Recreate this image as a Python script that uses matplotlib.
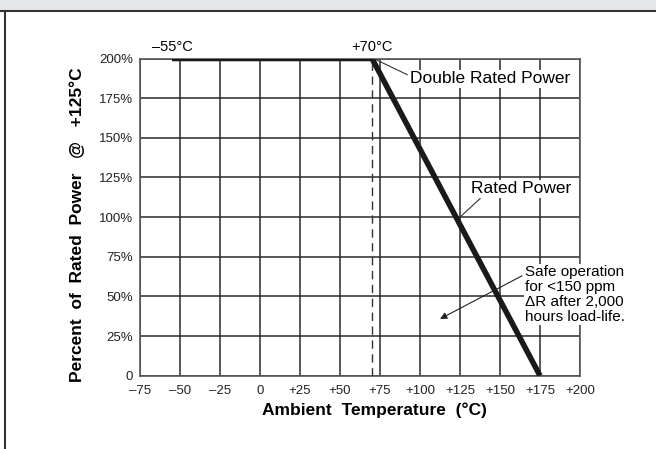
import numpy as np
import matplotlib.pyplot as plt
from matplotlib.patches import Rectangle
from matplotlib.lines import Line2D

plt.rcParams['font.family'] = ['Liberation Sans', 'DejaVu Sans']

# derating curve
temp = [-55, 70, 175]
power = [200, 200, 0]

x_ticks = [-75, -50, -25, 0, 25, 50, 75, 100, 125, 150, 175, 200]
x_labels = ['\u201375', '\u201350', '\u201325', '0', '+25', '+50', '+75',
            '+100', '+125', '+150', '+175', '+200']
y_ticks = [0, 25, 50, 75, 100, 125, 150, 175, 200]
y_labels = ['0', '25%', '50%', '75%', '100%', '125%', '150%', '175%', '200%']

fig = plt.figure(figsize=(6.56, 4.49), dpi=100)

# header band and frame
fig.patches.append(Rectangle((0, 1 - 10.5 / 449), 1, 10.5 / 449, transform=fig.transFigure,
                             facecolor='#e6e7e8', edgecolor='none', zorder=0))
fig.lines.append(Line2D([0, 1], [1 - 11 / 449] * 2, transform=fig.transFigure,
                        color='#333333', lw=1.5))
fig.lines.append(Line2D([4.5 / 656] * 2, [0, 1 - 11 / 449], transform=fig.transFigure,
                        color='#333333', lw=1.5))

ax = fig.add_axes([140 / 656, (449 - 375.7) / 449, 440 / 656, 317.2 / 449])
ax.set_xlim(-75, 200)
ax.set_ylim(0, 200)
ax.set_xticks(x_ticks)
ax.set_xticklabels(x_labels)
ax.set_yticks(y_ticks)
ax.set_yticklabels(y_labels)
ax.tick_params(length=0, labelsize=9.5, colors='#222222', pad=5)
ax.tick_params(axis='x', pad=7)
ax.grid(True, color='#2a2a2a', lw=1.1)
for s in ax.spines.values():
    s.set_color('#555555')
    s.set_linewidth(1.2)

# dashed line at +70
ax.axvline(70, color='#333333', lw=1, dashes=(6, 4), zorder=3)

ax.plot(temp, power, color='#1a1a1a', lw=4, solid_capstyle='butt', zorder=4)

ax.annotate('\u201355\u00b0C', (temp[0], 200), xytext=(0, 3), textcoords='offset points',
            ha='center', va='bottom', fontsize=10.5, annotation_clip=False)
ax.annotate('+70\u00b0C', (temp[1], 200), xytext=(0, 3), textcoords='offset points',
            ha='center', va='bottom', fontsize=10.5, annotation_clip=False)

box = dict(facecolor='white', edgecolor='none', pad=1)
ax.plot([71, 92], [200, 189.8], color='#333333', lw=0.8, zorder=5)
ax.text(93.5, 187.3, 'Double Rated Power', fontsize=12.5, ha='left', va='center',
        bbox=box, zorder=6)
ax.plot([125, 137.5], [100, 111.6], color='#333333', lw=0.8, zorder=5)
ax.text(132, 117.9, 'Rated Power', fontsize=12.5, ha='left', va='center',
        bbox=box, zorder=6)
ax.text(165.6, 69.5, 'Safe operation\nfor <150 ppm\n\u0394R after 2,000\nhours load-life.',
        fontsize=11, ha='left', va='top', linespacing=1.07, bbox=box, zorder=6)
ax.annotate('', xy=(112.5, 35.8), xytext=(163.8, 63),
            arrowprops=dict(arrowstyle='-|>', color='#222222', lw=0.8,
                            mutation_scale=10, shrinkA=0, shrinkB=0), zorder=7)

ax.set_xlabel('Ambient  Temperature  (\u00b0C)', fontsize=12.5, fontweight='bold')
ax.xaxis.set_label_coords(0.532, -0.085)
ax.set_ylabel('Percent  of  Rated  Power   @   +125\u00b0C', fontsize=12.5, fontweight='bold')
ax.yaxis.set_label_coords(-0.125, 0.475)

fig.savefig('out.png', dpi=100)
